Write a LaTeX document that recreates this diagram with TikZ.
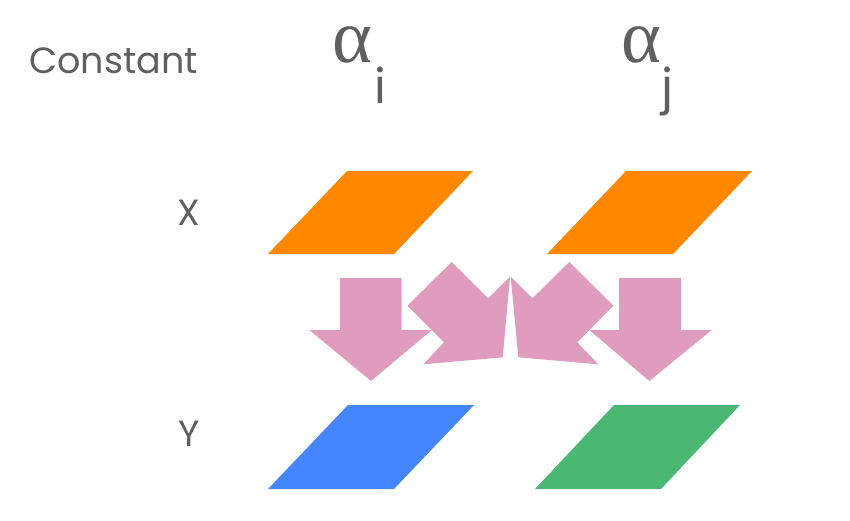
\documentclass[tikz,border=0pt]{standalone}
\usepackage{fontspec}
\setmainfont{Poppins}
\newfontfamily\grk{Liberation Serif}
\definecolor{txt}{HTML}{5F5F5F}
\definecolor{org}{HTML}{FF8800}
\definecolor{pnk}{HTML}{E09CBC}
\definecolor{blu}{HTML}{4486FF}
\definecolor{grn}{HTML}{4AB873}
\begin{document}
\begin{tikzpicture}[x=1pt,y=-1pt,
  lbl/.style={text=txt,inner sep=0pt,font=\fontsize{36.5}{40}\selectfont},
  alph/.style={text=txt,inner sep=0pt,anchor=base west,font=\grk\fontsize{76}{80}\selectfont},
  sub/.style={text=txt,inner sep=0pt,anchor=base,font=\fontsize{48}{52}\selectfont},
  arr/.style={fill=pnk,draw=none}]
\useasboundingbox (0,0) rectangle (850,520);
% labels
\node[lbl,anchor=base west] (const) at (29,73.5) {Constant};
\node[lbl,anchor=base] (xl) at (188.5,225) {X};
\node[lbl,anchor=base] (yl) at (189,446) {Y};
\node[alph] (ai) at (332,62) {α};
\node[sub] (si) at (380,103) {i};
\node[alph] (aj) at (621,62) {α};
\node[sub] (sj) at (667,103) {j};
% parallelograms
\fill[org] (268,254) -- (394,254) -- (473,171) -- (347,171) -- cycle;
\fill[org] (547,254) -- (673,254) -- (752,171) -- (626,171) -- cycle;
\fill[blu] (268,489) -- (394,489) -- (474,405) -- (348,405) -- cycle;
\fill[grn] (535,489) -- (661,489) -- (740,405) -- (614,405) -- cycle;
% arrows
\fill[arr] (340,278) -- (401.7,278) -- (401.7,330) -- (431.7,330) -- (371,381) -- (309.3,330) -- (340,330) -- cycle;
\fill[arr] (619,278) -- (681,278) -- (681,330) -- (711.7,330) -- (649.3,381) -- (589.3,330) -- (619,330) -- cycle;
\fill[arr] (407.3,305.7) -- (451.7,262) -- (488.3,298.3) -- (510,276.7) -- (502.7,357.3) -- (423.3,364.3) -- (444,342.3) -- cycle;
\fill[arr] (613.3,305.7) -- (569.3,262) -- (532.3,298.3) -- (510.7,276.7) -- (518.3,357.3) -- (598.3,364.3) -- (577.3,342.3) -- cycle;
\end{tikzpicture}
\end{document}
